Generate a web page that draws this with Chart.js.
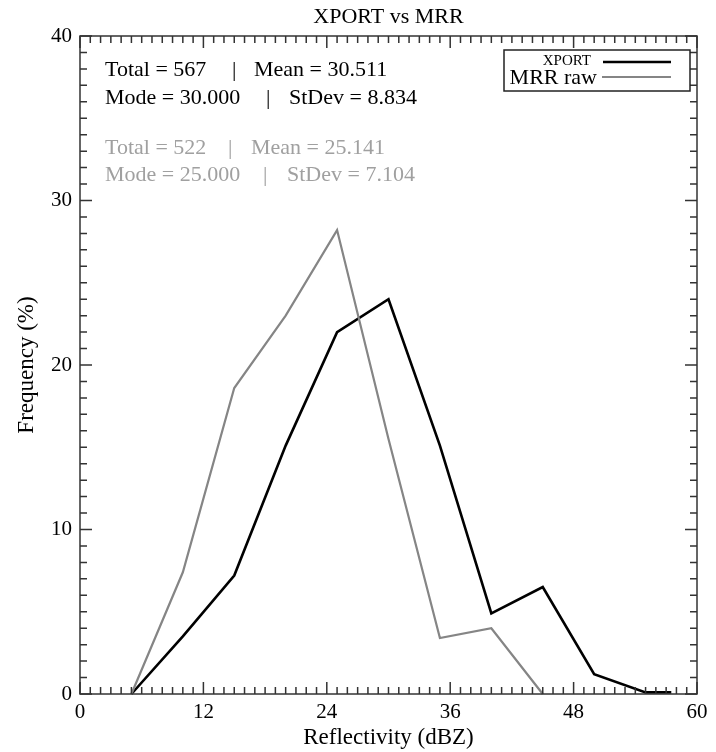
<!DOCTYPE html>
<html>
<head>
<meta charset="utf-8">
<script src="https://cdn.jsdelivr.net/npm/chart.js@4.4.0/dist/chart.umd.min.js"></script>
<style>
  body { margin: 0; background: #fff; }
  #wrap { width: 716px; height: 752px; }
</style>
</head>
<body>
<div id="wrap"><canvas id="histChart" width="716" height="752"></canvas></div>
<script>
// Reflectivity bins (dBZ) and frequencies (%)
const xportBins = [5, 10, 15, 20, 25, 30, 35, 40, 45, 50, 55, 57.5];
const xportFreq = [0, 3.5, 7.2, 15.1, 22.0, 24.0, 15.1, 4.9, 6.5, 1.2, 0.1, 0.1];
const mrrBins = [5, 10, 15, 20, 25, 30, 35, 40, 45];
const mrrFreq = [0, 7.4, 18.6, 23.0, 28.2, 15.5, 3.4, 4.0, 0];

const xTicks = [0, 12, 24, 36, 48, 60];
const yTicks = [0, 10, 20, 30, 40];

const xportStats = ['Total = 567', '|', 'Mean = 30.511', 'Mode = 30.000', '|', 'StDev = 8.834'];
const mrrStats = ['Total = 522', '|', 'Mean = 25.141', 'Mode = 25.000', '|', 'StDev = 7.104'];

const SERIF = '"Liberation Serif", "Times New Roman", serif';
const GRAY = '#858585';

function toPoints(xs, ys) {
    return xs.map((x, i) => ({ x: x, y: ys[i] }));
}

// Frame, inward ticks, title, stats text and legend box
const decorPlugin = {
    id: 'decor',
    afterDraw(chart) {
        const ctx = chart.ctx;
        const a = chart.chartArea;
        const xs = chart.scales.x;
        const ys = chart.scales.y;
        ctx.save();
        ctx.strokeStyle = '#333';
        ctx.lineWidth = 1.5;
        ctx.strokeRect(a.left, a.top, a.right - a.left, a.bottom - a.top);

        ctx.beginPath();
        for (let v = 0; v <= 60; v++) {
            const px = xs.getPixelForValue(v);
            const len = v % 12 === 0 ? 12 : 7;
            ctx.moveTo(px, a.bottom); ctx.lineTo(px, a.bottom - len);
            ctx.moveTo(px, a.top); ctx.lineTo(px, a.top + len);
        }
        for (let v = 0; v <= 40; v++) {
            const py = ys.getPixelForValue(v);
            const len = v % 10 === 0 ? 12 : 7;
            ctx.moveTo(a.left, py); ctx.lineTo(a.left + len, py);
            ctx.moveTo(a.right, py); ctx.lineTo(a.right - len, py);
        }
        ctx.stroke();

        // title
        ctx.fillStyle = '#000';
        ctx.font = '22px ' + SERIF;
        ctx.textAlign = 'center';
        ctx.textBaseline = 'middle';
        ctx.fillText('XPORT vs MRR', (a.left + a.right) / 2, 17);

        // stats
        ctx.textAlign = 'left';
        ctx.font = '22px ' + SERIF;
        const drawStats = (items, color, y1, y2, cols) => {
            ctx.fillStyle = color;
            ctx.fillText(items[0], cols[0], y1);
            ctx.fillText(items[1], cols[1], y1);
            ctx.fillText(items[2], cols[2], y1);
            ctx.fillText(items[3], cols[0], y2);
            ctx.fillText(items[4], cols[3], y2);
            ctx.fillText(items[5], cols[4], y2);
        };
        drawStats(xportStats, '#000', 70, 98, [105, 232, 254, 266, 289]);
        drawStats(mrrStats, '#a0a0a0', 148, 175, [105, 228, 251, 263, 287]);

        // legend
        ctx.strokeStyle = '#222';
        ctx.lineWidth = 1.5;
        ctx.strokeRect(504, 50, 186, 41);
        ctx.fillStyle = '#000';
        ctx.textAlign = 'right';
        ctx.font = '15px ' + SERIF;
        ctx.fillText('XPORT', 591, 61);
        ctx.font = '22px ' + SERIF;
        ctx.fillText('MRR raw', 597, 78);
        ctx.lineWidth = 2.5;
        ctx.strokeStyle = '#000';
        ctx.beginPath(); ctx.moveTo(603, 62); ctx.lineTo(671, 62); ctx.stroke();
        ctx.lineWidth = 2;
        ctx.strokeStyle = GRAY;
        ctx.beginPath(); ctx.moveTo(602, 77); ctx.lineTo(671, 77); ctx.stroke();
        ctx.restore();
    }
};

new Chart(document.getElementById('histChart'), {
    type: 'line',
    data: {
        datasets: [
            {
                label: 'MRR raw',
                data: toPoints(mrrBins, mrrFreq),
                borderColor: GRAY,
                borderWidth: 2.2,
                pointRadius: 0,
                tension: 0,
                clip: false
            },
            {
                label: 'XPORT',
                data: toPoints(xportBins, xportFreq),
                borderColor: '#000',
                borderWidth: 2.6,
                pointRadius: 0,
                tension: 0,
                clip: false
            }
        ]
    },
    options: {
        responsive: false,
        animation: false,
        layout: { padding: { top: 36, right: 19, left: 0, bottom: 0 } },
        plugins: {
            legend: { display: false },
            title: { display: false },
            tooltip: { enabled: false }
        },
        scales: {
            x: {
                type: 'linear',
                min: 0,
                max: 60,
                afterFit: s => { s.height = 58; },
                afterBuildTicks: s => { s.ticks = xTicks.map(v => ({ value: v })); },
                grid: { display: false, drawTicks: false },
                border: { display: false },
                ticks: {
                    color: '#000',
                    padding: 6,
                    maxRotation: 0,
                    font: { family: SERIF, size: 21 }
                },
                title: {
                    display: true,
                    text: 'Reflectivity (dBZ)',
                    color: '#000',
                    padding: { top: 0, bottom: 0 },
                    font: { family: SERIF, size: 23 }
                }
            },
            y: {
                type: 'linear',
                min: 0,
                max: 40,
                afterFit: s => { s.width = 80; },
                afterBuildTicks: s => { s.ticks = yTicks.map(v => ({ value: v })); },
                grid: { display: false, drawTicks: false },
                border: { display: false },
                ticks: {
                    color: '#000',
                    padding: 8,
                    font: { family: SERIF, size: 21 }
                },
                title: {
                    display: true,
                    text: 'Frequency (%)',
                    color: '#000',
                    padding: { top: 13, bottom: 13 },
                    font: { family: SERIF, size: 23 }
                }
            }
        }
    },
    plugins: [decorPlugin]
});
</script>
</body>
</html>
